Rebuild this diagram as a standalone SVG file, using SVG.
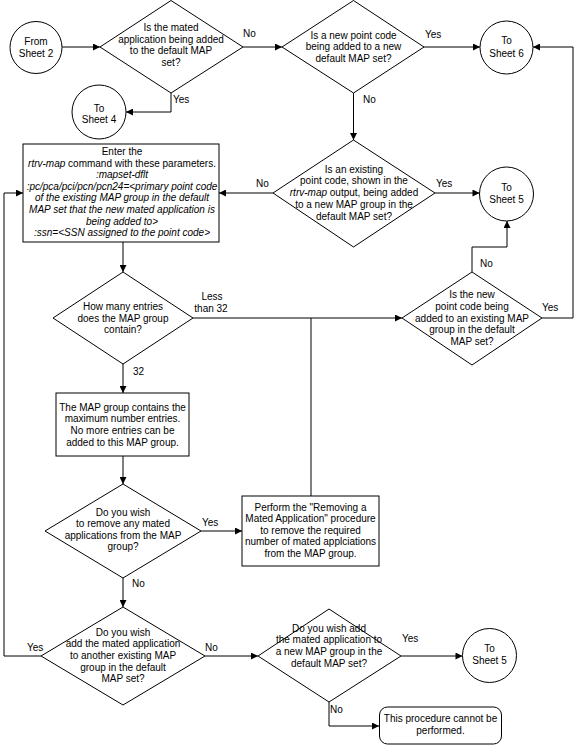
<svg xmlns="http://www.w3.org/2000/svg" width="575" height="745" viewBox="0 0 575 745">
<style>
  .shape { fill: #ffffff; stroke: #000000; stroke-width: 1; }
  .conn { fill: none; stroke: #000000; stroke-width: 1; }
  .arr { marker-end: url(#ah); }
  text { font-family: "Liberation Sans", Arial, sans-serif; font-size: 10px; fill: #000000; }
  .c { text-anchor: middle; }
  .i { font-style: italic; }
</style>
<defs>
  <marker id="ah" viewBox="0 0 10 10" refX="10" refY="5" markerWidth="8" markerHeight="7" orient="auto" markerUnits="userSpaceOnUse">
    <path d="M0,0 L10,5 L0,10 z" fill="#000000"/>
  </marker>
</defs>
<rect x="0" y="0" width="575" height="745" fill="#ffffff"/>

<g id="connectors">
  <line class="conn arr" x1="62" y1="47" x2="100" y2="47"/>
  <line class="conn arr" x1="243" y1="47" x2="282" y2="47"/>
  <line class="conn arr" x1="424" y1="47" x2="480" y2="47"/>
  <polyline class="conn arr" points="171,93 171,112 126,112"/>
  <line class="conn arr" x1="353.5" y1="93" x2="353.5" y2="140"/>
  <line class="conn arr" x1="435" y1="193" x2="479.5" y2="193"/>
  <line class="conn arr" x1="273" y1="193" x2="219" y2="193"/>
  <line class="conn arr" x1="123" y1="242" x2="123" y2="272"/>
  <line class="conn arr" x1="193" y1="318" x2="402" y2="318"/>
  <polyline class="conn arr" points="472,272 472,247 507,247 507,221"/>
  <polyline class="conn arr" points="542,318 573,318 573,47 533,47"/>
  <line class="conn arr" x1="123" y1="364" x2="123" y2="393"/>
  <line class="conn arr" x1="123" y1="456" x2="123" y2="484"/>
  <line class="conn arr" x1="201" y1="531" x2="242" y2="531"/>
  <line class="conn" x1="311" y1="496" x2="311" y2="318"/>
  <line class="conn arr" x1="123" y1="578" x2="123" y2="607"/>
  <polyline class="conn arr" points="41,656 4,656 4,193 23,193"/>
  <line class="conn arr" x1="205" y1="656" x2="258" y2="656"/>
  <line class="conn arr" x1="401" y1="656" x2="462.5" y2="656"/>
  <polyline class="conn arr" points="329,702 329,726 379,726"/>

  <text x="243" y="37">No</text>
  <text x="173" y="103">Yes</text>
  <text x="425" y="38">Yes</text>
  <text x="363" y="103">No</text>
  <text x="436" y="187">Yes</text>
  <text x="256" y="187">No</text>
  <text class="c" x="212" y="300">Less</text>
  <text class="c" x="211" y="312">than 32</text>
  <text x="480" y="267">No</text>
  <text x="542" y="311">Yes</text>
  <text x="133" y="375">32</text>
  <text x="202" y="525.5">Yes</text>
  <text x="132" y="587">No</text>
  <text x="27" y="650.5">Yes</text>
  <text x="205" y="650.5">No</text>
  <text x="402" y="642">Yes</text>
  <text x="330" y="713">No</text>
</g>

<g id="from-sheet-2">
  <circle class="shape" cx="36" cy="47.5" r="26"/>
  <text class="c" x="36" y="44.5">From</text>
  <text class="c" x="36" y="56.5">Sheet 2</text>
</g>

<g id="d1-default-map-set">
  <polygon class="shape" points="171,0.5 243,47 171,93 100,47"/>
  <text class="c" x="171" y="31">Is the mated</text>
  <text class="c" x="171" y="42.5">application being added</text>
  <text class="c" x="171" y="54">to the default MAP</text>
  <text class="c" x="171" y="65.5">set?</text>
</g>

<g id="to-sheet-4">
  <circle class="shape" cx="99" cy="112" r="27"/>
  <text class="c" x="99" y="111.5">To</text>
  <text class="c" x="99" y="123">Sheet 4</text>
</g>

<g id="d2-new-point-code">
  <polygon class="shape" points="353.5,0.5 424,47 353.5,93 282,47"/>
  <text class="c" x="353.5" y="38.5">Is a new point code</text>
  <text class="c" x="353.5" y="50">being added to a new</text>
  <text class="c" x="353.5" y="61.6">default MAP set?</text>
</g>

<g id="to-sheet-6">
  <circle class="shape" cx="506.5" cy="47.5" r="26.5"/>
  <text class="c" x="506.5" y="44">To</text>
  <text class="c" x="506.5" y="56.5">Sheet 6</text>
</g>

<g id="d3-existing-point-code">
  <polygon class="shape" points="353.5,140 435,193 353.5,247 273,193"/>
  <text class="c" x="354" y="172.5">Is an existing</text>
  <text class="c" x="354" y="184.3">point code, shown in the</text>
  <text class="c" x="354" y="196"><tspan class="i">rtrv-map</tspan> output, being added</text>
  <text class="c" x="354" y="207.8">to a new MAP group in the</text>
  <text class="c" x="354" y="219.5">default MAP set?</text>
</g>

<g id="to-sheet-5-upper">
  <circle class="shape" cx="506.5" cy="194" r="27"/>
  <text class="c" x="506.5" y="191">To</text>
  <text class="c" x="506.5" y="202.5">Sheet 5</text>
</g>

<g id="box-rtrv-map">
  <rect class="shape" x="23" y="144" width="196" height="98"/>
  <text class="c" x="122" y="155">Enter the</text>
  <text class="c" x="122" y="166.6"><tspan class="i">rtrv-map</tspan> command with these parameters.</text>
  <text class="c i" x="122" y="178.2">:mapset-dflt</text>
  <text class="c i" x="122" y="189.8">:pc/pca/pci/pcn/pcn24=&lt;primary point code</text>
  <text class="c i" x="122" y="201.4">of the existing MAP group in the default</text>
  <text class="c i" x="122" y="213">MAP set that the new mated application is</text>
  <text class="c i" x="122" y="224.6">being added to&gt;</text>
  <text class="c i" x="122" y="236.2">:ssn=&lt;SSN assigned to the point code&gt;</text>
</g>

<g id="d4-how-many-entries">
  <polygon class="shape" points="123,272 193,318 123,364 53,318"/>
  <text class="c" x="123" y="310">How many entries</text>
  <text class="c" x="123" y="321.6">does the MAP group</text>
  <text class="c" x="123" y="333.2">contain?</text>
</g>

<g id="d5-existing-map-group">
  <polygon class="shape" points="472,272 542,318 472,365 402,318"/>
  <text class="c" x="472" y="297.5">Is the new</text>
  <text class="c" x="472" y="309.5">point code being</text>
  <text class="c" x="472" y="321.5">added to an existing MAP</text>
  <text class="c" x="472" y="333.2">group in the default</text>
  <text class="c" x="472" y="345">MAP set?</text>
</g>

<g id="box-max-entries">
  <rect class="shape" x="56" y="393" width="133" height="63"/>
  <text class="c" x="122.5" y="410.7">The MAP group contains the</text>
  <text class="c" x="122.5" y="422.3">maximum number entries.</text>
  <text class="c" x="122.5" y="433.9">No more entries can be</text>
  <text class="c" x="122.5" y="445.5">added to this MAP group.</text>
</g>

<g id="d6-remove-mated">
  <polygon class="shape" points="123,484 201,531 123,578 45,531"/>
  <text class="c" x="123" y="515.5">Do you wish</text>
  <text class="c" x="123" y="527">to remove any mated</text>
  <text class="c" x="123" y="538.5">applications from the MAP</text>
  <text class="c" x="123" y="550">group?</text>
</g>

<g id="box-removing">
  <rect class="shape" x="242" y="496" width="137" height="70"/>
  <text class="c" x="310.5" y="510.7">Perform the "Removing a</text>
  <text class="c" x="310.5" y="522.2">Mated Application" procedure</text>
  <text class="c" x="310.5" y="533.7">to remove the required</text>
  <text class="c" x="310.5" y="545.2">number of mated applciations</text>
  <text class="c" x="310.5" y="556.7">from the MAP group.</text>
</g>

<g id="d7-another-map-group">
  <polygon class="shape" points="123,607 205,656 123,705 41,656"/>
  <text class="c" x="123" y="635.5">Do you wish</text>
  <text class="c" x="123" y="647.2">add the mated application</text>
  <text class="c" x="123" y="658.8">to another existing MAP</text>
  <text class="c" x="123" y="670.5">group in the default</text>
  <text class="c" x="123" y="682.2">MAP set?</text>
</g>

<g id="d8-new-map-group">
  <polygon class="shape" points="329,609 401,656 329,702 258,656"/>
  <text class="c" x="329" y="631.5">Do you wish add</text>
  <text class="c" x="329" y="643.2">the mated application to</text>
  <text class="c" x="329" y="654.8">a new MAP group in the</text>
  <text class="c" x="329" y="666.5">default MAP set?</text>
</g>

<g id="to-sheet-5-lower">
  <circle class="shape" cx="489.5" cy="655.5" r="27"/>
  <text class="c" x="489.5" y="652">To</text>
  <text class="c" x="489.5" y="664">Sheet 5</text>
</g>

<g id="box-cannot-perform">
  <rect class="shape" x="379.5" y="707" width="122" height="37" rx="8" ry="8"/>
  <text class="c" x="440.5" y="721.5">This procedure cannot be</text>
  <text class="c" x="440.5" y="733.5">performed.</text>
</g>
</svg>
